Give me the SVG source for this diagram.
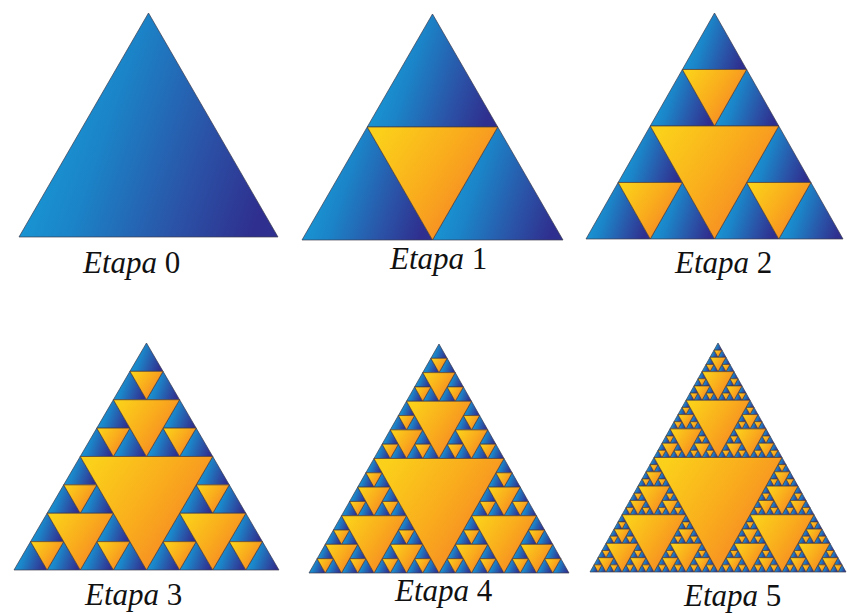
<svg xmlns="http://www.w3.org/2000/svg" xmlns:xlink="http://www.w3.org/1999/xlink" width="847" height="614" viewBox="0 0 847 614">
  <style>
    .up { fill: url(#blue); stroke: #3b3b4e; stroke-width: 0.7; vector-effect: non-scaling-stroke; }
    .dn { fill: url(#orange); stroke: #4a3b3b; stroke-width: 0.7; vector-effect: non-scaling-stroke; }
    .lbl { font-family: 'Liberation Serif', 'Times New Roman', Tinos, Times, 'Noto Serif', 'DejaVu Serif', FreeSerif, serif; font-size: 31px; fill: #111; }
    .it { font-style: italic; }
  </style>
  <defs>
    <linearGradient id="blue" x1="0" y1="0.35" x2="1" y2="0.65">
      <stop offset="0" stop-color="#16a4de"/>
      <stop offset="0.35" stop-color="#1b84c8"/>
      <stop offset="0.7" stop-color="#2a55a8"/>
      <stop offset="1" stop-color="#2f2f8f"/>
    </linearGradient>
    <linearGradient id="orange" x1="0" y1="0.2" x2="1" y2="0.8">
      <stop offset="0" stop-color="#fbd01a"/>
      <stop offset="0.5" stop-color="#f9a91d"/>
      <stop offset="1" stop-color="#f4782a"/>
    </linearGradient>
    <polygon id="s0" class="up" points="128,0 0,222 256,222"/>
    <polygon id="inv" class="dn" points="64,111 192,111 128,222"/>
    <g id="s1">
      <use xlink:href="#s0" transform="translate(64,0) scale(0.5)"/>
      <use xlink:href="#s0" transform="translate(0,111) scale(0.5)"/>
      <use xlink:href="#s0" transform="translate(128,111) scale(0.5)"/>
      <use xlink:href="#inv"/>
    </g>
    <g id="s2">
      <use xlink:href="#s1" transform="translate(64,0) scale(0.5)"/>
      <use xlink:href="#s1" transform="translate(0,111) scale(0.5)"/>
      <use xlink:href="#s1" transform="translate(128,111) scale(0.5)"/>
      <use xlink:href="#inv"/>
    </g>
    <g id="s3">
      <use xlink:href="#s2" transform="translate(64,0) scale(0.5)"/>
      <use xlink:href="#s2" transform="translate(0,111) scale(0.5)"/>
      <use xlink:href="#s2" transform="translate(128,111) scale(0.5)"/>
      <use xlink:href="#inv"/>
    </g>
    <g id="s4">
      <use xlink:href="#s3" transform="translate(64,0) scale(0.5)"/>
      <use xlink:href="#s3" transform="translate(0,111) scale(0.5)"/>
      <use xlink:href="#s3" transform="translate(128,111) scale(0.5)"/>
      <use xlink:href="#inv"/>
    </g>
    <g id="s5">
      <use xlink:href="#s4" transform="translate(64,0) scale(0.5)"/>
      <use xlink:href="#s4" transform="translate(0,111) scale(0.5)"/>
      <use xlink:href="#s4" transform="translate(128,111) scale(0.5)"/>
      <use xlink:href="#inv"/>
    </g>
  </defs>
  <rect width="847" height="614" fill="#ffffff"/>

  <g id="etapa0">
    <use xlink:href="#s0" transform="translate(19,13) scale(1.0117,1.009)"/>
    <text class="lbl" x="83" y="273"><tspan class="it">Etapa</tspan> 0</text>
  </g>
  <g id="etapa1">
    <use xlink:href="#s1" transform="translate(302,14) scale(1.0195,1.018)"/>
    <text class="lbl" x="390" y="269"><tspan class="it">Etapa</tspan> 1</text>
  </g>
  <g id="etapa2">
    <use xlink:href="#s2" transform="translate(586,13) scale(1.004,1.018)"/>
    <text class="lbl" x="675" y="273"><tspan class="it">Etapa</tspan> 2</text>
  </g>
  <g id="etapa3">
    <use xlink:href="#s3" transform="translate(14,343) scale(1.035,1.0225)"/>
    <text class="lbl" x="85" y="605"><tspan class="it">Etapa</tspan> 3</text>
  </g>
  <g id="etapa4">
    <use xlink:href="#s4" transform="translate(309,344) scale(1.0156,1.0315)"/>
    <text class="lbl" x="395" y="601"><tspan class="it">Etapa</tspan> 4</text>
  </g>
  <g id="etapa5">
    <use xlink:href="#s5" transform="translate(590,343) scale(1,1.0315)"/>
    <text class="lbl" x="684" y="606"><tspan class="it">Etapa</tspan> 5</text>
  </g>
  <g id="connectors"/>
</svg>
